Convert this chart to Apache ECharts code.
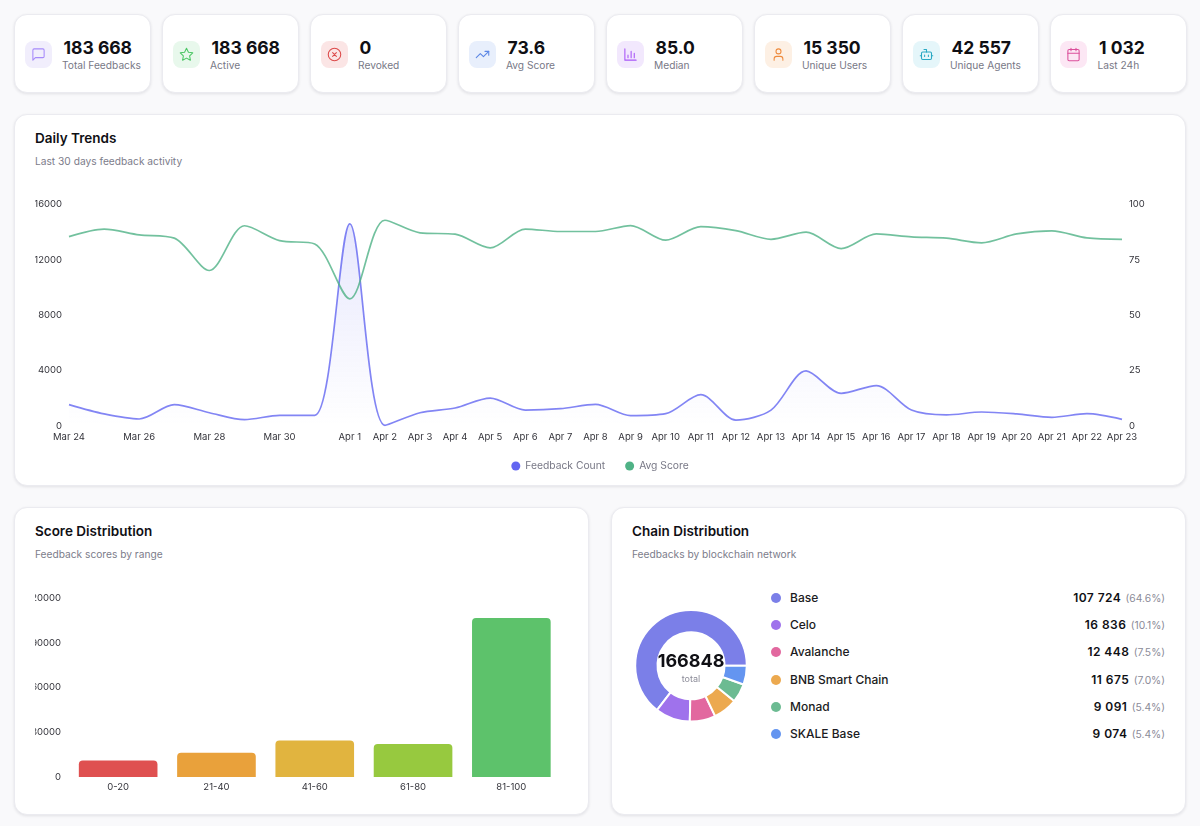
<!DOCTYPE html>
<html><head><meta charset="utf-8">
<script src="https://cdn.jsdelivr.net/npm/echarts@6/dist/echarts.min.js"></script>
<style>
*{box-sizing:border-box;margin:0;padding:0}
html,body{width:1200px;height:826px;overflow:hidden;background:#f9f9fb;font-family:Inter,"Noto Sans",sans-serif;color:#0f0f14}
.card{position:absolute;background:#fff;border:1px solid #ebebf0;border-radius:13px;box-shadow:0 1px 3px rgba(20,20,40,.10)}
.ico{position:absolute;left:9.5px;top:25.500px;width:27px;height:27px;border-radius:8px;display:flex;align-items:center;justify-content:center}
.ico svg{width:15px;height:15px;fill:none;stroke-width:1.7;stroke-linecap:round;stroke-linejoin:round}
.val{position:absolute;left:48.5px;top:20.5px;font-size:17.5px;font-weight:700;line-height:24px;white-space:nowrap}
.lab{position:absolute;left:47px;top:42px;font-size:10.2px;line-height:16px;color:#787886;white-space:nowrap}
.h{position:absolute;left:20px;top:14px;font-size:13.5px;font-weight:600;line-height:18px}
.s{position:absolute;left:20px;top:38px;font-size:10.2px;line-height:16px;color:#7c7c8a}
.c{position:absolute}
.row{position:absolute;left:761px;width:404px;height:20px;font-size:12px;line-height:20px}
.dot{position:absolute;left:10px;top:5px;width:10px;height:10px;border-radius:50%}
.nm{position:absolute;left:29px;font-weight:500;color:#1b1b22}
.rt{position:absolute;right:0;white-space:nowrap}
.rt b{font-weight:600;letter-spacing:.45px}
.rt i{font-style:normal;font-size:10.3px;color:#8b8b98;margin-left:1px}
</style></head><body>
<script>
const statLabels=["Total Feedbacks","Active","Revoked","Avg Score","Median","Unique Users","Unique Agents","Last 24h"];
const statValues=["183 668","183 668","0","73.6","85.0","15 350","42 557","1 032"];
const statBg=["#f1eefc","#e8f8ec","#fbe5e5","#e8effc","#f2e8fd","#fdf0e4","#e5f6fa","#fce7f4"];
const statFg=["#a78bfa","#4cc765","#dc4a4a","#5b86e5","#a855f7","#ee8a3c","#2aa9c4","#db4f9b"];
const statIcons=[
'<path d="M21 15a2 2 0 0 1-2 2H7l-4 4V5a2 2 0 0 1 2-2h14a2 2 0 0 1 2 2z"/>',
'<path d="M12 2l3.1 6.3 6.9 1-5 4.9 1.2 6.9-6.2-3.3-6.2 3.3L7 14.200l-5-4.900 6.900-1z"/>',
'<circle cx="12" cy="12" r="10"/><path d="M15 9l-6 6M9 9l6 6"/>',
'<path d="M22 7l-8.500 8.500-5-5L2 17"/><path d="M16 7h6v6"/>',
'<path d="M3 3v18h18"/><path d="M8 17v-4M13 17V7M18 17v-7"/>',
'<path d="M19 21v-2a4 4 0 0 0-4-4H9a4 4 0 0 0-4 4v2"/><circle cx="12" cy="7" r="4"/>',
'<path d="M12 8V4H8"/><rect x="4" y="8" width="16" height="12" rx="2"/><path d="M2 14h2M20 14h2M15 13v2M9 13v2"/>',
'<rect x="3" y="4" width="18" height="18" rx="2"/><path d="M16 2v4M8 2v4M3 10h18"/>'];

const days=["Mar 24","Mar 25","Mar 26","Mar 27","Mar 28","Mar 29","Mar 30","Mar 31","Apr 1","Apr 2","Apr 3","Apr 4","Apr 5","Apr 6","Apr 7","Apr 8","Apr 9","Apr 10","Apr 11","Apr 12","Apr 13","Apr 14","Apr 15","Apr 16","Apr 17","Apr 18","Apr 19","Apr 20","Apr 21","Apr 22","Apr 23"];
const feedbackCount=[1540,870,506,1540,960,460,770,770,14600,50,960,1300,2020,1150,1250,1560,750,890,2260,430,1150,3980,2360,2920,1150,800,1010,870,630,890,480];
const avgScore=[85.5,88.9,86.3,84.8,70.2,90.4,83.7,82.2,57.4,92.9,87.2,86.6,80.4,88.9,87.8,87.8,90.5,83.9,90,88.2,84.3,87.5,80.1,86.7,85.4,84.8,82.7,86.7,88.1,84.9,84.3];

const scoreRanges=["0-20","21-40","41-60","61-80","81-100"];
const scoreCounts=[11000,16300,24400,22200,106600];
const scoreColors=["#df5050","#e9a13b","#e1b43f","#97c93f","#5dc26b"];

const chainNames=["Base","Celo","Avalanche","BNB Smart Chain","Monad","SKALE Base"];
const chainCounts=[107724,16836,12448,11675,9091,9074];
const chainLabels=["107 724","16 836","12 448","11 675","9 091","9 074"];
const chainPct=["(64.6%)","(10.1%)","(7.5%)","(7.0%)","(5.4%)","(5.4%)"];
const chainColors=["#7b7fe8","#9f72ec","#e2689f","#eca94f","#6cbb92","#6495f0"];

function el(cls,css,html,parent){const d=document.createElement('div');d.className=cls;if(css)d.style.cssText=css;if(html!=null)d.innerHTML=html;(parent||document.body).appendChild(d);return d;}
const cardX=[14,162,310,458,606,754,902,1049.500];
statLabels.forEach((l,i)=>{
  const c=el('card',`left:${cardX[i]}px;top:14px;width:137px;height:79px`);
  el('ico',`background:${statBg[i]}`,`<svg viewBox="0 0 24 24" style="stroke:${statFg[i]}">${statIcons[i]}</svg>`,c);
  el('val','',statValues[i],c);
  el('lab','',l,c);
});
const c1=el('card','left:14px;top:114px;width:1172px;height:372px');
el('h','','Daily Trends',c1);el('s','','Last 30 days feedback activity',c1);
const c2=el('card','left:14px;top:507px;width:575px;height:308px');
el('h','','Score Distribution',c2);el('s','','Feedback scores by range',c2);
const c3=el('card','left:611px;top:507px;width:575px;height:308px');
el('h','','Chain Distribution',c3);el('s','','Feedbacks by blockchain network',c3);
const dTrend=el('c','left:35px;top:190px;width:1130px;height:290px');
const dBar=el('c','left:35px;top:585px;width:535px;height:220px');
const dPie=el('c','left:631px;top:605px;width:120px;height:120px');
chainNames.forEach((n,i)=>{
  const r=el('row',`top:${588+i*27.2}px`);
  el('dot',`background:${chainColors[i]}`,null,r);
  el('nm','',n,r);
  el('rt','',`<b>${chainLabels[i]}</b> <i>${chainPct[i]}</i>`,r);
});

const font='Inter';
const plain=v=>String(v);
echarts.init(dTrend).setOption({
  animation:false,
  textStyle:{fontFamily:font},
  legend:{show:true,bottom:4,left:'center',icon:'circle',itemWidth:9,itemHeight:9,itemGap:20,
    textStyle:{fontFamily:font,fontSize:10.3,color:'#787886'},data:['Feedback Count','Avg Score']},
  grid:{left:34,right:43,top:14.500,bottom:54,outerBoundsMode:'none'},
  xAxis:{type:'category',data:days,boundaryGap:false,axisLine:{show:false},axisTick:{show:false},
    axisLabel:{interval:(i)=>i>=8||i%2===0,fontSize:9.5,color:'#33333a',margin:6,fontFamily:font}},
  yAxis:[
    {type:'value',min:0,max:16000,interval:4000,splitLine:{show:false},axisLine:{show:false},axisTick:{show:false},
      axisLabel:{fontSize:9.5,color:'#33333a',margin:7,fontFamily:font,formatter:plain}},
    {type:'value',min:0,max:100,interval:25,position:'right',splitLine:{show:false},axisLine:{show:false},axisTick:{show:false},
      axisLabel:{fontSize:9.5,color:'#33333a',margin:7,fontFamily:font,formatter:plain}}
  ],
  series:[
    {name:'Feedback Count',type:'line',smooth:0.3,showSymbol:false,data:feedbackCount,
      itemStyle:{color:'#6366f1'},lineStyle:{color:'#6366f1',width:1.7,opacity:.8},
      areaStyle:{color:new echarts.graphic.LinearGradient(0,0,0,1,[{offset:0,color:'rgba(99,102,241,.22)'},{offset:1,color:'rgba(99,102,241,0)'}])}},
    {name:'Avg Score',type:'line',yAxisIndex:1,smooth:0.3,showSymbol:false,data:avgScore,
      itemStyle:{color:'#4fb286'},lineStyle:{color:'#4fb286',width:1.7,opacity:.8}}
  ]
});
echarts.init(dBar).setOption({
  animation:false,
  grid:{left:34,right:9.5,top:13,bottom:28,outerBoundsMode:'none'},
  xAxis:{type:'category',data:scoreRanges,axisLine:{show:false},axisTick:{show:false},
    axisLabel:{fontSize:9.5,color:'#33333a',margin:5,fontFamily:font}},
  yAxis:{type:'value',min:0,max:120000,interval:30000,splitLine:{show:false},axisLine:{show:false},axisTick:{show:false},
    axisLabel:{fontSize:9.5,color:'#33333a',margin:8,fontFamily:font,formatter:plain}},
  series:[{type:'bar',barWidth:'80%',data:scoreCounts.map((v,i)=>({value:v,itemStyle:{color:scoreColors[i],borderRadius:[4,4,0,0]}}))}]
});
echarts.init(dPie).setOption({
  animation:false,
  title:{text:'166848',subtext:'total',left:'center',top:43,itemGap:4,
    textStyle:{fontFamily:font,fontSize:18,fontWeight:700,color:'#0f0f14'},
    subtextStyle:{fontFamily:font,fontSize:9,color:'#8b8b98'}},
  series:[{type:'pie',center:[60,60.8],radius:[33.5,55.800],startAngle:0,clockwise:false,label:{show:false},labelLine:{show:false},
    itemStyle:{borderColor:'#fff',borderWidth:2},
    data:chainNames.map((n,i)=>({name:n,value:chainCounts[i],itemStyle:{color:chainColors[i]}}))}]
});
</script>
</body></html>
